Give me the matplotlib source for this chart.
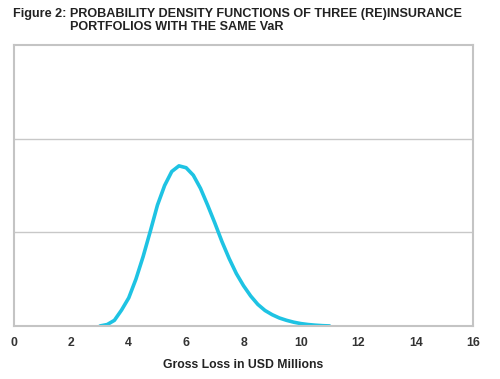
import numpy as np
import matplotlib.pyplot as plt

# values
loss = [3.0, 3.25, 3.5, 3.75, 4.0, 4.25, 4.5, 4.75, 5.0, 5.25, 5.5, 5.75,
        6.0, 6.25, 6.5, 6.75, 7.0, 7.25, 7.5, 7.75, 8.0, 8.25, 8.5, 8.75,
        9.0, 9.25, 9.5, 9.75, 10.0, 10.25, 10.5, 10.75, 11.0]
density = [0.0, 0.015, 0.06, 0.17, 0.30, 0.50, 0.74, 1.01, 1.29, 1.50, 1.65, 1.71,
           1.69, 1.61, 1.47, 1.29, 1.10, 0.90, 0.72, 0.56, 0.43, 0.32, 0.23, 0.165,
           0.12, 0.085, 0.06, 0.04, 0.025, 0.015, 0.008, 0.003, 0.0]
xticks = [0, 2, 4, 6, 8, 10, 12, 14, 16]

plt.rcParams['font.family'] = ['Liberation Sans', 'DejaVu Sans']

fig = plt.figure(figsize=(5, 3.79), dpi=100)
ax = fig.add_axes([0.028, 0.14, 0.918, 0.741])

ax.plot(loss, density, color="#1ec3e3", lw=2.6, solid_capstyle="round",
        solid_joinstyle="round")

ax.set_xlim(0, 16)
ax.set_ylim(0, 3)
ax.set_xticks(xticks)
ax.set_xticklabels([str(t) for t in xticks], fontsize=8.8, fontweight="bold", color="#333333")
ax.tick_params(axis="x", length=0, pad=8)
ax.set_yticks([1, 2])
ax.set_yticklabels([])
ax.tick_params(axis="y", length=0)
ax.yaxis.grid(True, color="#c8c8c8", lw=1)
ax.set_axisbelow(True)
for s in ax.spines.values():
    s.set_color("#c4c4c4")
    s.set_linewidth(1.5)

ax.set_xlabel("Gross Loss in USD Millions", fontsize=8.8, fontweight="bold", color="#222222", labelpad=7)

fig.text(0.026, 0.963, "Figure 2: PROBABILITY DENSITY FUNCTIONS OF THREE (RE)INSURANCE",
         fontsize=9.1, fontweight="bold", color="#222222", va="center")
fig.text(0.14, 0.928, "PORTFOLIOS WITH THE SAME VaR",
         fontsize=9.1, fontweight="bold", color="#222222", va="center")

fig.savefig("out.png", dpi=100)
